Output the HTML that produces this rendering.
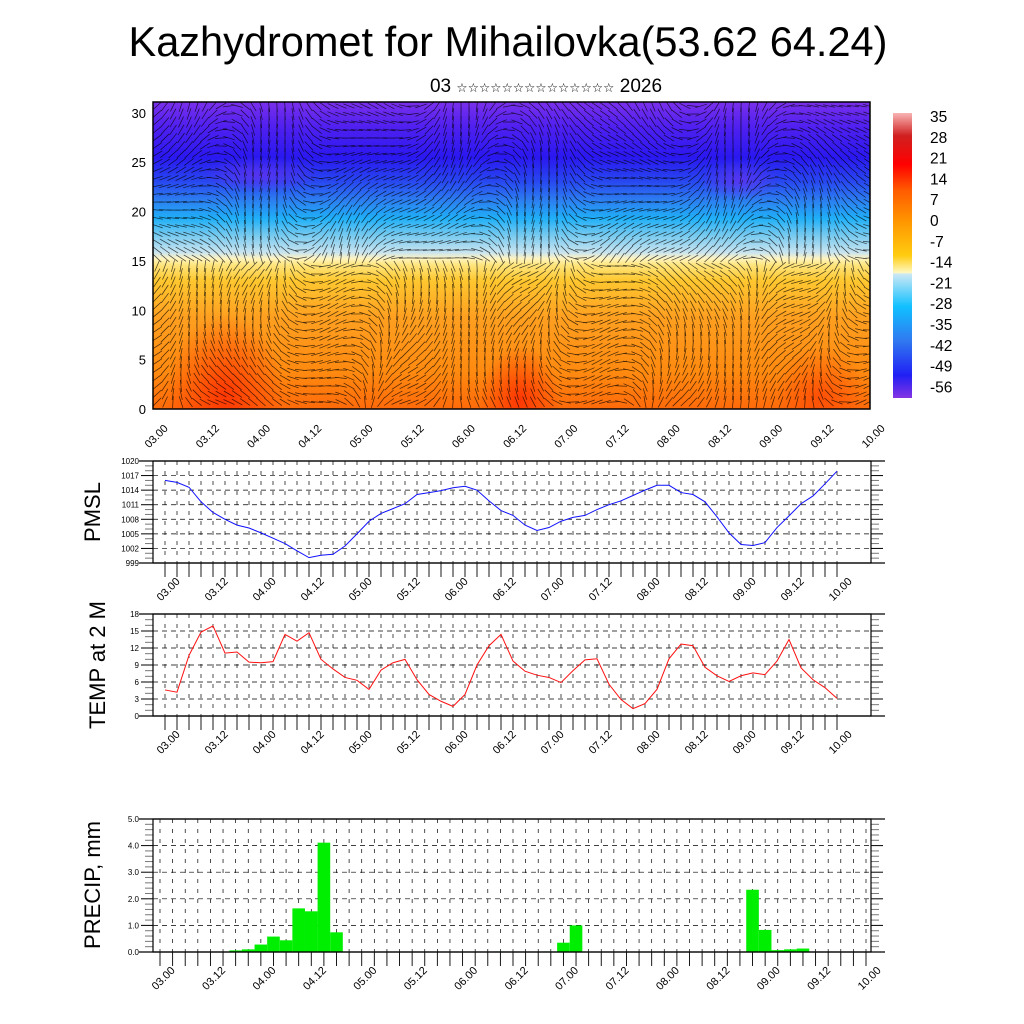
<!DOCTYPE html>
<html><head><meta charset="utf-8"><style>
html,body{margin:0;padding:0;background:#fff;}
svg{display:block;font-family:"Liberation Sans",sans-serif;}
</style></head><body>
<svg id="chart" width="1024" height="1024" viewBox="0 0 1024 1024" xmlns="http://www.w3.org/2000/svg">
<defs>
<linearGradient id="tgrad" x1="0" y1="1" x2="0" y2="0">
<stop offset="0" stop-color="#ff6a0a"/>
<stop offset="0.12" stop-color="#ff8a10"/>
<stop offset="0.3" stop-color="#ffa020"/>
<stop offset="0.42" stop-color="#ffc830"/>
<stop offset="0.47" stop-color="#ffe680"/>
<stop offset="0.49" stop-color="#fff4c0"/>
<stop offset="0.51" stop-color="#c8e4f0"/>
<stop offset="0.57" stop-color="#70c8f0"/>
<stop offset="0.62" stop-color="#20b0f8"/>
<stop offset="0.68" stop-color="#2c7ef0"/>
<stop offset="0.74" stop-color="#2848f0"/>
<stop offset="0.82" stop-color="#2a18f0"/>
<stop offset="0.92" stop-color="#5020f0"/>
<stop offset="1" stop-color="#7a30ec"/>
</linearGradient>
<linearGradient id="cbgrad" x1="0" y1="0" x2="0" y2="1">
<stop offset="0" stop-color="#f8b4b4"/>
<stop offset="0.08" stop-color="#d02020"/>
<stop offset="0.18" stop-color="#ff0000"/>
<stop offset="0.27" stop-color="#ff5a00"/>
<stop offset="0.38" stop-color="#ff9600"/>
<stop offset="0.5" stop-color="#ffcc10"/>
<stop offset="0.56" stop-color="#fff8c0"/>
<stop offset="0.565" stop-color="#cce8f4"/>
<stop offset="0.68" stop-color="#10c0ff"/>
<stop offset="0.8" stop-color="#3078f0"/>
<stop offset="0.92" stop-color="#2020f4"/>
<stop offset="1" stop-color="#8434e4"/>
</linearGradient>
<radialGradient id="hot1"><stop offset="0" stop-color="#ff3000" stop-opacity="0.9"/><stop offset="1" stop-color="#ff3000" stop-opacity="0"/></radialGradient>
<radialGradient id="violet1"><stop offset="0" stop-color="#6a30f0" stop-opacity="0.7"/><stop offset="1" stop-color="#6a30f0" stop-opacity="0"/></radialGradient>
<clipPath id="topclip"><rect x="153" y="102" width="717" height="307"/></clipPath>
</defs>

<text x="508" y="56" font-size="41.5" text-anchor="middle">Kazhydromet for Mihailovka(53.62 64.24)</text>
<text x="546" y="92" font-size="19" text-anchor="middle">03 <tspan font-size="12.6">☆☆☆☆☆☆☆☆☆☆☆☆☆☆</tspan> 2026</text>

<g id="top"></g>
<g id="cb"></g>
<g id="pmsl"></g>
<g id="temp"></g>
<g id="prec"></g>
</svg>
<script>
const timeLabels = ["03.00","03.12","04.00","04.12","05.00","05.12","06.00","06.12","07.00","07.12","08.00","08.12","09.00","09.12","10.00"];
const pmslTicks = [999,1002,1005,1008,1011,1014,1017,1020];
const tempTicks = [0,3,6,9,12,15,18];
const precTicks = [0,1,2,3,4,5];
const heightTicks = [0,5,10,15,20,25,30];
const cbLabels = ["35","28","21","14","7","0","-7","-14","-21","-28","-35","-42","-49","-56"];
const pmslValues = [1016.0,1015.6,1014.6,1011.6,1009.4,1008.0,1006.8,1006.2,1005.2,1004.1,1003.0,1001.5,1000.1,1000.6,1000.8,1002.5,1005.0,1007.6,1009.2,1010.2,1011.2,1013.1,1013.5,1013.9,1014.5,1014.8,1014.0,1011.8,1009.8,1008.8,1006.8,1005.7,1006.3,1007.6,1008.4,1008.8,1010.0,1011.0,1011.8,1012.9,1014.0,1015.0,1015.0,1013.5,1013.1,1011.6,1008.5,1005.2,1002.8,1002.6,1003.2,1006.3,1008.7,1011.2,1012.8,1015.3,1017.9];
const tempValues = [4.6,4.2,10.7,14.8,15.9,11.1,11.3,9.5,9.4,9.6,14.4,13.2,14.7,10.0,8.3,6.8,6.3,4.7,8.1,9.4,10.0,6.4,3.8,2.6,1.7,3.8,9.0,12.4,14.4,9.7,7.9,7.2,6.8,5.9,8.0,9.9,10.1,5.6,2.9,1.3,2.2,4.7,10.1,12.7,12.4,8.6,7.1,6.1,7.1,7.6,7.3,9.7,13.5,8.5,6.4,5.0,3.1];
const precValues = [0,0,0,0,0,0,0.06,0.1,0.28,0.58,0.44,1.64,1.53,4.11,0.74,0,0,0,0,0,0,0,0,0,0,0,0,0.02,0,0,0,0.02,0.35,1.0,0,0,0,0,0,0,0,0,0,0,0,0,0,2.34,0.83,0.07,0.1,0.13,0,0,0,0,0];

const NS="http://www.w3.org/2000/svg";
function mk(parent, tag, attrs){const e=document.createElementNS(NS,tag);for(const k in attrs)e.setAttribute(k,attrs[k]);parent.appendChild(e);return e;}

function xAxisLabels(g, xStart, xEnd, yC){
  timeLabels.forEach((t,i)=>{
    const x = xStart + (xEnd-xStart)*i/(timeLabels.length-1);
    const cx=x+3, cy=yC;
    const tx = mk(g,'text',{x:cx,y:cy+4,'font-size':11,'text-anchor':'middle',transform:`rotate(-45 ${cx} ${cy})`});
    
    
    tx.textContent=t;
  });
}

function panel(g, cfg){
  const {L,R,T,B,ymin,ymax,ticks,x0,x1,fmt} = cfg;
  const ys = v => B - (v-ymin)/(ymax-ymin)*(B-T);
  const xs = i => x0 + (x1-x0)*i/56;
  for(let i=0;i<=56;i++){
    const x=xs(i); if(x<=L+1||x>=R-1) continue;
    const l=mk(g,'line',{x1:x,y1:T,x2:x,y2:B,stroke:'#000','stroke-width':0.7,'stroke-dasharray':'4 6'});
     
  }
  ticks.forEach(v=>{
    const y=ys(v);
    if(v!==ymin && v!==ymax){
      const l=mk(g,'line',{x1:L,y1:y,x2:R,y2:y,stroke:'#000','stroke-width':0.7,'stroke-dasharray':'5 4'});
       
    }
    const t=mk(g,'text',{x:L-14,y:y+3,'font-size':8,'text-anchor':'end'});
     
    t.textContent=fmt(v);
    mk(g,'line',{x1:L-12,y1:y,x2:L,y2:y,stroke:'#000','stroke-width':1});
    mk(g,'line',{x1:R,y1:y,x2:R+12,y2:y,stroke:'#000','stroke-width':1});
  });
  for(let k=0;k<ticks.length-1;k++){
    for(let m=1;m<cfg.minor;m++){
      const v=ticks[k]+(ticks[k+1]-ticks[k])*m/cfg.minor, y=ys(v);
      mk(g,'line',{x1:L-8,y1:y,x2:L,y2:y,stroke:'#777','stroke-width':1});
      mk(g,'line',{x1:R,y1:y,x2:R+8,y2:y,stroke:'#777','stroke-width':1});
    }
  }
  for(let i=0;i<=56;i++){
    const x=xs(i);
    mk(g,'line',{x1:x,y1:B,x2:x,y2:B+14,stroke:'#000','stroke-width':0.9});
  }
  return {xs,ys};
}
function frame(g,L,R,T,B){
  const r=mk(g,'rect',{x:L,y:T,width:R-L,height:B-T,fill:'none',stroke:'#000','stroke-width':1.2});
   
  mk(g,'line',{x1:L-14,y1:T,x2:R+14,y2:T,stroke:'#000','stroke-width':1.2});
  mk(g,'line',{x1:L-14,y1:B,x2:R+14,y2:B,stroke:'#000','stroke-width':1.2});
}
function ytitle(g,text,x,y,name){
  const t=mk(g,'text',{x:x,y:y,'font-size':22,'text-anchor':'middle',transform:`rotate(-90 ${x} ${y})`});
   
  t.textContent=text;
}

(function(){
  const g=document.getElementById('pmsl');
  const L=153,R=871,T=461,B=563;
  const a=panel(g,{L,R,T,B,ymin:999,ymax:1020,ticks:pmslTicks,x0:165,x1:837,minor:3,fmt:v=>v});
  const pts=pmslValues.map((v,i)=>a.xs(i)+','+a.ys(v)).join(' ');
  const p=mk(g,'polyline',{points:pts,fill:'none',stroke:'#1010ff','stroke-width':1});
   
  frame(g,L,R,T,B);
  xAxisLabels(g,165,837,589);
  ytitle(g,'PMSL',100,512,'pmsl-axis-title');
})();
(function(){
  const g=document.getElementById('temp');
  const L=153,R=871,T=614,B=716;
  const a=panel(g,{L,R,T,B,ymin:0,ymax:18,ticks:tempTicks,x0:165,x1:837,minor:3,fmt:v=>v});
  const pts=tempValues.map((v,i)=>a.xs(i)+','+a.ys(v)).join(' ');
  const p=mk(g,'polyline',{points:pts,fill:'none',stroke:'#ff1010','stroke-width':1});
   
  frame(g,L,R,T,B);
  xAxisLabels(g,165,837,742);
  ytitle(g,'TEMP at 2 M',105,665,'temp-axis-title');
})();
(function(){
  const g=document.getElementById('prec');
  const L=153,R=871,T=819,B=952;
  const a=panel(g,{L,R,T,B,ymin:0,ymax:5,ticks:precTicks,x0:160,x1:866,minor:5,fmt:v=>v.toFixed(1)});
  const w=(866-160)/56;
  precValues.forEach((v,i)=>{
    if(v<=0) return;
    const r=mk(g,'rect',{x:a.xs(i)-w/2,y:a.ys(v),width:w,height:B-a.ys(v),fill:'#00ee00'});
     
  });
  frame(g,L,R,T,B);
  xAxisLabels(g,160,866,978);
  ytitle(g,'PRECIP, mm',100,885,'precip-axis-title');
})();
(function(){
  const g=document.getElementById('top');
  const L=153,R=870,T=102,B=409;
  const ys=v=>B-v*(B-T)/31.1;
  const c=mk(g,'g',{'clip-path':'url(#topclip)'});
  mk(c,'rect',{x:L,y:T,width:R-L,height:B-T,fill:'url(#tgrad)'});
  mk(c,'ellipse',{cx:225,cy:395,rx:60,ry:80,fill:'url(#hot1)'});
  mk(c,'ellipse',{cx:520,cy:400,rx:40,ry:55,fill:'url(#hot1)'});
  mk(c,'ellipse',{cx:820,cy:395,rx:45,ry:50,fill:'url(#hot1)','opacity':0.6});
  mk(c,'ellipse',{cx:740,cy:180,rx:40,ry:20,fill:'url(#violet1)'});
  mk(c,'ellipse',{cx:260,cy:175,rx:60,ry:18,fill:'url(#violet1)'});
  let d='';
  for(let y=T+4;y<B;y+=8){
    for(let x=L+4;x<R;x+=8){
      const ang = Math.sin(x*0.021+y*0.013)*1.1 + Math.cos(x*0.047)*0.6 + (y<260?0.1:1.2);
      const len=12;
      const dx=Math.cos(ang)*len, dy=Math.sin(ang)*len;
      d+=`M${(x-dx/2).toFixed(1)} ${(y-dy/2).toFixed(1)}l${dx.toFixed(1)} ${dy.toFixed(1)}`;
    }
  }
  const tex=mk(c,'path',{d:d,stroke:'#000','stroke-width':0.75,'stroke-opacity':0.7,fill:'none'});
   
  const r=mk(g,'rect',{x:L,y:T,width:R-L,height:B-T,fill:'none',stroke:'#000','stroke-width':1.5});
   
  heightTicks.forEach(v=>{
    const y=ys(v);
    const t=mk(g,'text',{x:L-7,y:y+5,'font-size':13,'text-anchor':'end'});
     
    t.textContent=v;
  });
  xAxisLabels(g,153,870,436);
})();
(function(){
  const g=document.getElementById('cb');
  const r=mk(g,'rect',{x:893,y:113,width:19,height:285,fill:'url(#cbgrad)'});
   
  cbLabels.forEach((s,i)=>{
    const t=mk(g,'text',{x:930,y:122+i*20.8,'font-size':15.5});
     
    t.textContent=s;
  });
})();
</script>
</body></html>
